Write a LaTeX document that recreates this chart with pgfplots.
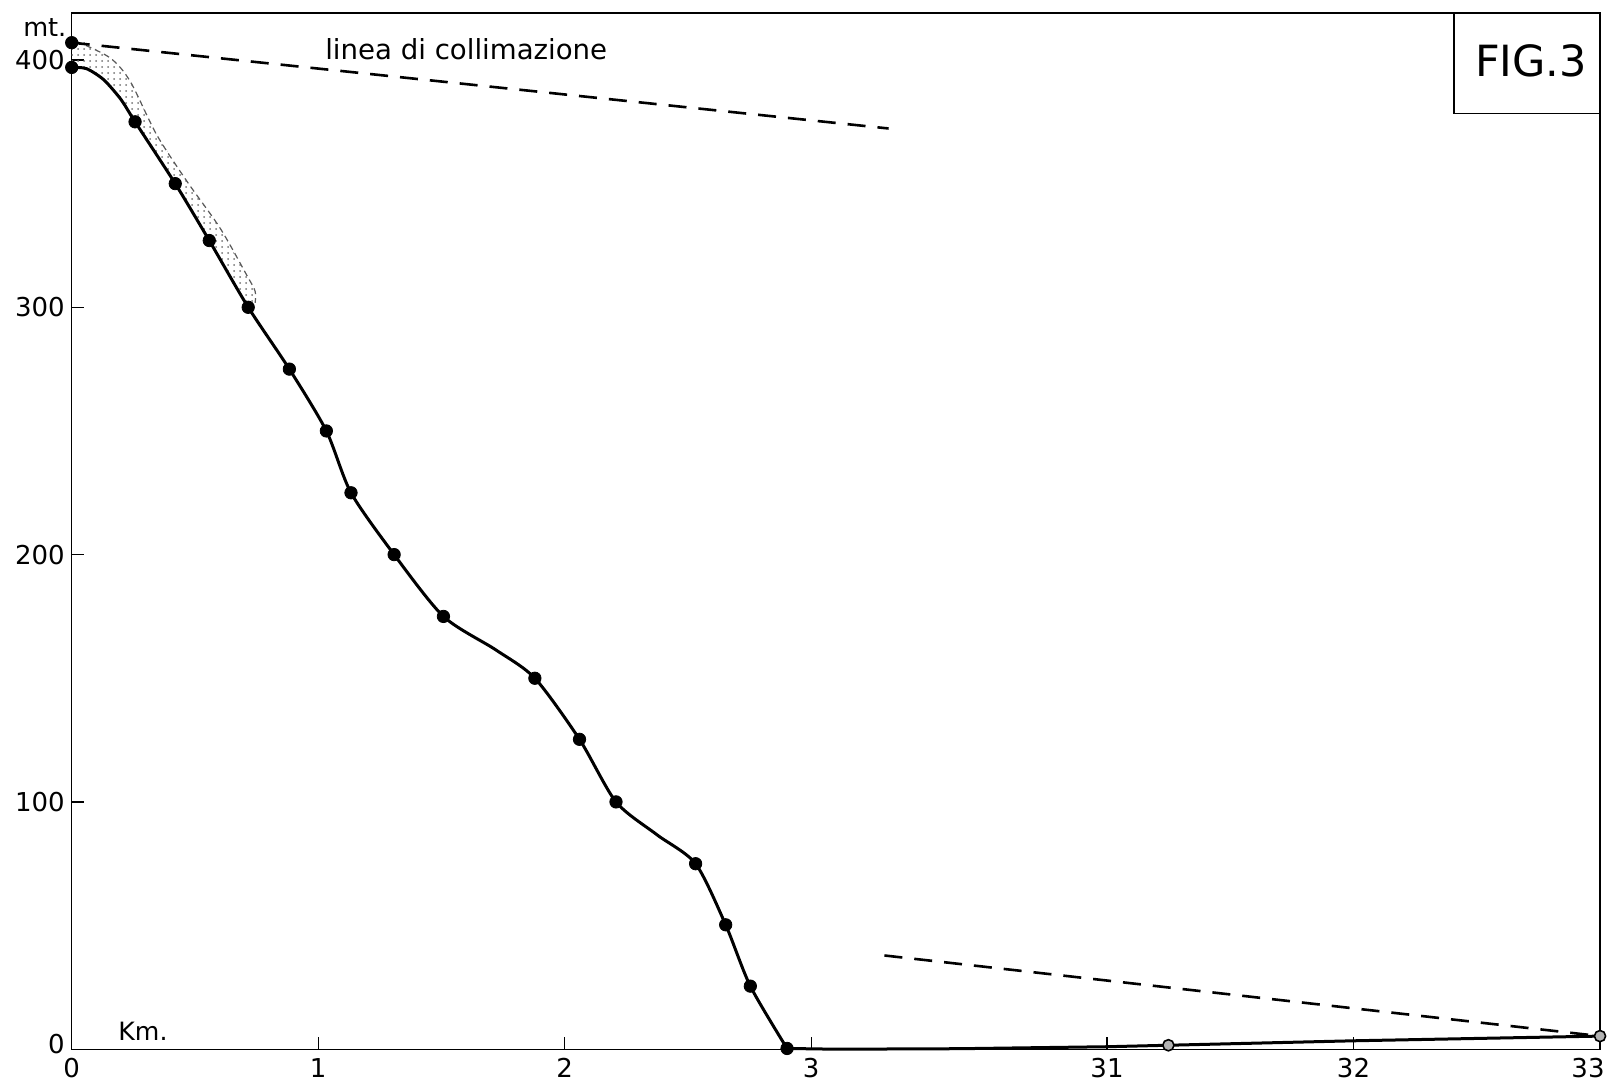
\documentclass[border=0pt]{standalone}
\usepackage{pgfplots}
\pgfplotsset{compat=1.18}
\usepackage{fontspec}
\setmainfont{DejaVu Sans}
\usetikzlibrary{patterns}
\begin{document}
\begin{tikzpicture}
\begin{axis}[
  scale only axis,
  width=764pt, height=518pt,
  xmin=0, xmax=6.2, ymin=0, ymax=419,
  clip=false,
  axis line style={line width=0.7pt},
  tick align=inside,
  tick pos=left,
  major tick length=6pt,
  tick style={line width=0.6pt, black},
  xtick={0,1,2,3,4.2,5.2,6.2},
  xticklabels={0,1,2,3,31,32,33\hspace*{12pt}},
  ytick={0,100,200,300,400},
  yticklabels={\raisebox{5pt}{0},100,200,300,400},
  /pgf/number format/assume math mode=true,
  ticklabel style={font=\fontsize{13}{15}\selectfont},
  xticklabel style={yshift=-1pt},
]
% stippled band
\addplot[draw=none, pattern=dots, pattern color=black!55] coordinates {
(0,407) (0.047,407.5) (0.155,400.9) (0.237,391.4) (0.344,369.9) (0.467,351)
(0.602,332) (0.71,313) (0.744,306.5) (0.744,301.8)
(0.716,300) (0.558,327) (0.42,350) (0.257,375) (0.2,384) (0.13,392)
(0.06,396.5) (0,397)} -- cycle;
\addplot[black!65, line width=0.6pt, dash pattern=on 3pt off 2pt, smooth] coordinates {
(0.02,407.5) (0.155,400.9) (0.237,391.4) (0.344,369.9) (0.467,351)
(0.602,332) (0.71,313) (0.744,306.5) (0.744,301.8)};
% collimation lines
\addplot[black, line width=1.3pt, dash pattern=on 9pt off 6pt] coordinates {(0,407) (3.314,372.3)};
\addplot[black, line width=1.3pt, dash pattern=on 9pt off 6pt] coordinates {(3.297,37.9) (6.2,5.3)};
% profile
\addplot[black, line width=1.5pt, smooth, tension=0.45] coordinates {
(0,397) (0.06,396.5) (0.13,392) (0.2,384) (0.257,375) (0.42,350)
(0.558,327) (0.716,300) (0.883,275) (1.033,250) (1.133,225) (1.308,200)
(1.508,175) (1.72,161.5) (1.879,150) (2.06,125.3) (2.208,100) (2.373,86.8)
(2.531,75) (2.653,50.3) (2.753,25.5) (2.902,0.3)};
\addplot[black, line width=1.5pt] coordinates {
(2.902,0.3) (3.1,0) (3.6,0.2) (4.2,1.0) (4.449,1.6) (5.2,3.4) (6.2,5.3)};
\addplot[only marks, mark=*, mark size=3.1pt, black] coordinates {
(0,407) (0,397) (0.257,375) (0.42,350) (0.558,327) (0.716,300) (0.883,275)
(1.033,250) (1.133,225) (1.308,200) (1.508,175) (1.879,150) (2.06,125.3)
(2.208,100) (2.531,75) (2.653,50.3) (2.753,25.5) (2.902,0.3)};
\addplot[only marks, mark=*, mark size=2.8pt, mark options={fill=gray!60, draw=black, line width=0.8pt}] coordinates {
(4.449,1.6) (6.2,5.3)};
% labels
\node[anchor=base west, font=\fontsize{13.8}{16}\selectfont] at (axis cs:1.0,400) {linea di collimazione};
\node[anchor=east, font=\fontsize{12.8}{15}\selectfont, inner sep=0pt] at (axis cs:-0.02,413.3) {mt.};
\node[anchor=base west, font=\fontsize{12.6}{15}\selectfont, inner sep=0pt] at (axis cs:0.188,3.6) {Km.};
\draw[line width=0.6pt] (axis cs:5.608,419) -- (axis cs:5.608,378.5) -- (axis cs:6.2,378.5);
\node[font=\fontsize{21.5}{24}\selectfont] at (axis cs:5.92,399.5) {FIG.3};
\end{axis}
\pgfresetboundingbox
\path ([xshift=-35.85pt,yshift=-19pt]current axis.south west) rectangle ([xshift=4.5pt,yshift=6.5pt]current axis.north east);
\end{tikzpicture}
\end{document}
